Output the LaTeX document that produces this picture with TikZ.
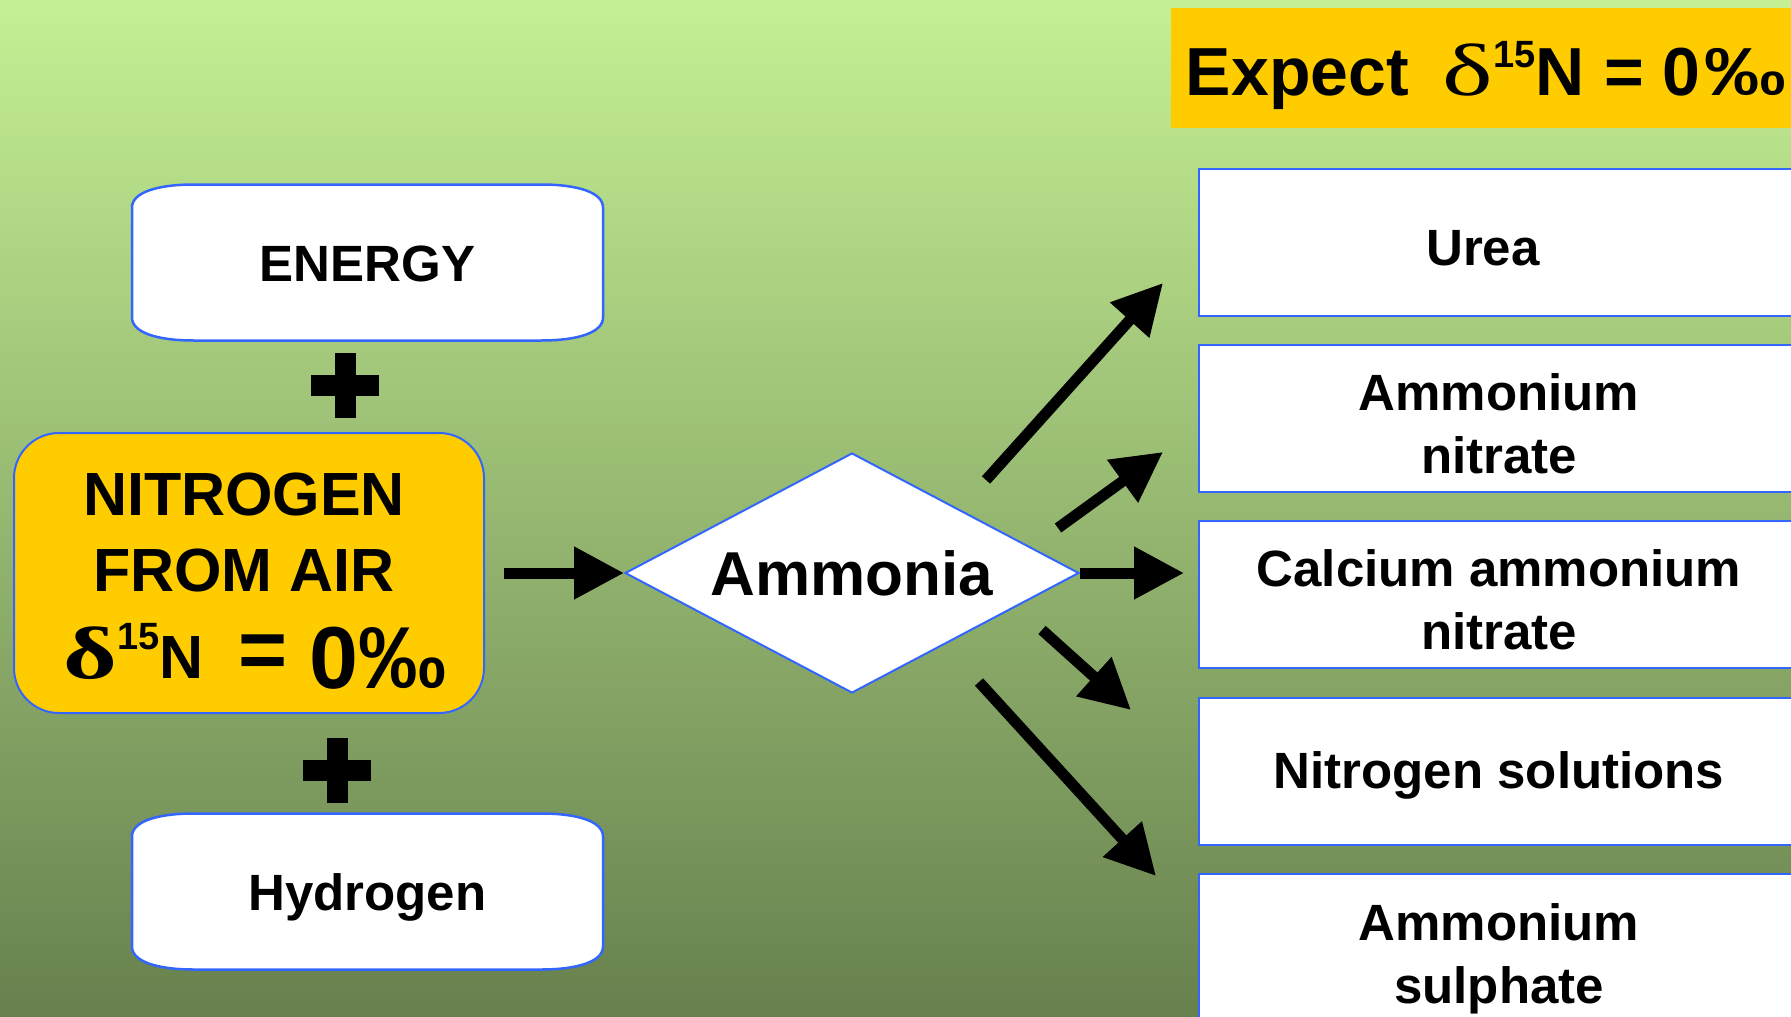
\documentclass[tikz,border=0pt]{standalone}
\usepackage{fontspec}
\usepackage{graphicx}
\setmainfont{Liberation Sans}
\newfontfamily\grk{Liberation Serif}
\usetikzlibrary{shapes.geometric,arrows.meta}
\definecolor{bgtop}{RGB}{197,240,148}
\definecolor{bgbot}{RGB}{103,128,78}
\definecolor{boxblue}{RGB}{51,102,255}
\definecolor{gold}{RGB}{255,204,0}
\pgfdeclarelayer{bg}
\pgfsetlayers{bg,main}
\newcommand\fsz[2]{\fontsize{#1}{#2}\selectfont}
\newcommand\capsuleshape[1]{%
  \filldraw[capsulepath] ([yshift=-23pt]#1.north west)
   .. controls ([yshift=-8pt]#1.north west) and ([xshift=25pt]#1.north west) .. ([xshift=62pt]#1.north west)
   -- ([xshift=-62pt]#1.north east)
   .. controls ([xshift=-25pt]#1.north east) and ([yshift=-8pt]#1.north east) .. ([yshift=-23pt]#1.north east)
   -- ([yshift=23pt]#1.south east)
   .. controls ([yshift=8pt]#1.south east) and ([xshift=-25pt]#1.south east) .. ([xshift=-62pt]#1.south east)
   -- ([xshift=62pt]#1.south west)
   .. controls ([xshift=25pt]#1.south west) and ([yshift=8pt]#1.south west) .. ([yshift=23pt]#1.south west)
   -- cycle;}
\begin{document}
\begin{tikzpicture}[x=1pt,y=-1pt,
  capsule/.style={rectangle, minimum width=471pt, minimum height=156pt, inner sep=0pt, outer sep=0pt,
    font=\fsz{51}{60}\bfseries, text height=37pt, text depth=0pt},
  capsulepath/.style={fill=white, draw=boxblue, line width=2.5pt},
  nitrobox/.style={rectangle, rounded corners=45pt, fill=gold, draw=boxblue, line width=2pt,
    minimum width=470pt, minimum height=280pt, inner sep=0pt, align=center, font=\fsz{61}{76}\bfseries},
  expectbox/.style={rectangle, fill=gold, minimum width=620pt, minimum height=120pt, inner sep=0pt,
    font=\fsz{68}{80}\bfseries, text height=54pt, text depth=0pt},
  prodbox/.style={rectangle, fill=white, draw=boxblue, line width=2.5pt, minimum width=600pt,
    minimum height=147pt, inner sep=0pt, align=center, font=\fsz{51}{63}\bfseries},
  ammbox/.style={diamond, shape aspect=1.89, fill=white, draw=boxblue, line width=2pt, minimum width=454pt,
    minimum height=240pt, inner sep=0pt, font=\fsz{62}{70}\bfseries},
  arr/.style={line width=11pt, -{Triangle[length=50pt,width=50pt]}},
  plussign/.style={fill=black}
]
\useasboundingbox (0,0) rectangle (1791,1017);
\clip (0,0) rectangle (1791,1017);
\begin{pgfonlayer}{bg}
\shade[top color=bgtop, bottom color=bgbot] (0,0) rectangle (1791,1017);
\end{pgfonlayer}

% left column
\node[capsule] (energy) at (367.5,262.5) {ENERGY};
\node[capsule] (hydrogen) at (367.5,891.5) {Hydrogen};
\begin{pgfonlayer}{bg}
\capsuleshape{energy}
\capsuleshape{hydrogen}
\end{pgfonlayer}

\fill[plussign] (311,374.5) rectangle (379,395.5);
\fill[plussign] (334.5,352.5) rectangle (355.5,417.5);
\fill[plussign] (303,759.5) rectangle (371,780.5);
\fill[plussign] (326.5,737.5) rectangle (347.5,802.5);

\node[nitrobox] (nitro) at (249,573) {\rule{0pt}{58pt}\kern-10pt NITROGEN\\\kern-10pt FROM AIR\\[11pt]\kern12pt{\grk\fsz{74}{76}\scalebox{1.4}[1]{δ}}\raisebox{29pt}{\fsz{38}{40}15}N\hspace{34pt}{\fsz{84}{86}=}\hspace{22pt}\raisebox{-10pt}{\fsz{88}{90}0‰}};

% ammonia
\node[ammbox] (amm) at (852,573) {Ammonia};
\draw[arr] ([xshift=19pt]nitro.east) -- (amm.west);

% header
\node[expectbox] (expect) at (1481,68) {\kern10pt Expect\hspace{34pt}{\grk\mdseries\fsz{74}{80}\scalebox{1.45}[1]{δ}}\raisebox{28pt}{\fsz{38}{40}15}N\hspace{20pt}=\hspace{18pt}0\hspace{4pt}\scalebox{1.2}[1]{‰}};

% products
\node[prodbox, text height=45pt, text depth=0pt] (urea) at (1499,242.5) {\kern-32pt Urea};
\node[prodbox] (an) at (1499,418.5) {\rule{0pt}{47pt}Ammonium\\nitrate};
\node[prodbox] (can) at (1499,594.5) {\rule{0pt}{47pt}Calcium ammonium\\nitrate};
\node[prodbox, text height=34pt, text depth=0pt] (ns) at (1499,771.5) {Nitrogen solutions};
\node[prodbox, minimum height=160pt] (as) at (1499,954) {\rule{0pt}{47pt}Ammonium\\sulphate};

% arrows from ammonia
\coordinate (a1s) at (986,480);  \coordinate (a1e) at (1163,283);
\coordinate (a2s) at (1058,528); \coordinate (a2e) at (1163,452);
\coordinate (a3e) at (1184,573);
\coordinate (a4s) at (1042,630); \coordinate (a4e) at (1131,710);
\coordinate (a5s) at (979,682);  \coordinate (a5e) at (1156,876);
\draw[arr] (a1s) -- (a1e);
\draw[arr] (a2s) -- (a2e);
\draw[arr] (amm.east) -- (a3e);
\draw[arr] (a4s) -- (a4e);
\draw[arr] (a5s) -- (a5e);
\end{tikzpicture}
\end{document}
